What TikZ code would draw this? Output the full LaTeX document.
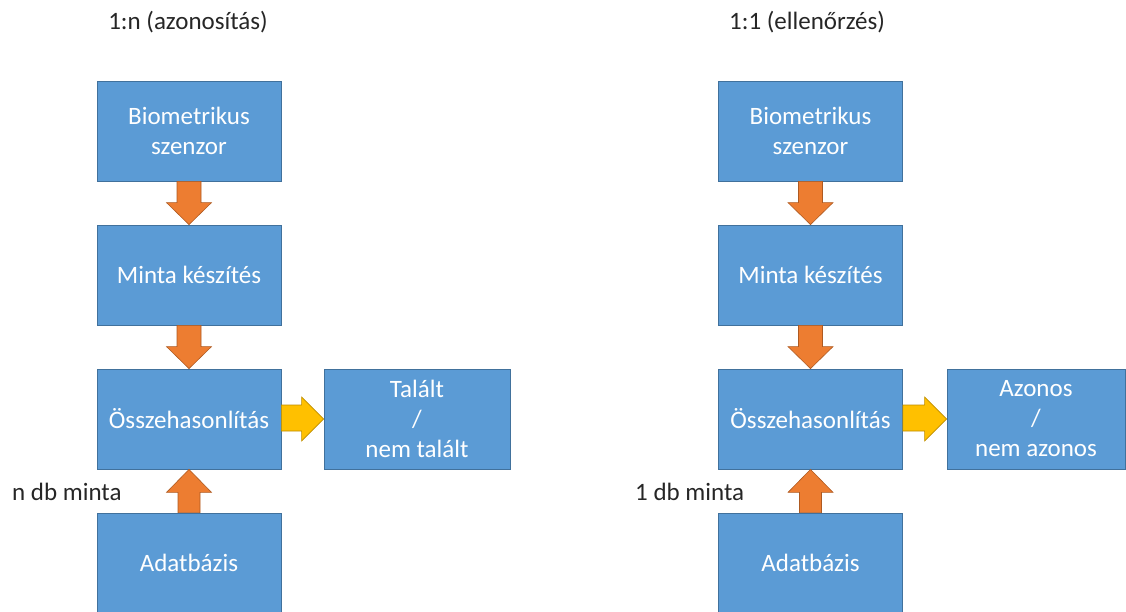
\documentclass[tikz,border=0pt]{standalone}
\usepackage{fontspec}
\setmainfont{Carlito}
\usetikzlibrary{calc}
\definecolor{boxblue}{HTML}{5B9BD5}
\definecolor{boxedge}{HTML}{41719C}
\definecolor{arrorange}{HTML}{ED7D31}
\definecolor{orangeedge}{HTML}{AE5A21}
\definecolor{arryellow}{HTML}{FFC000}
\definecolor{yellowedge}{HTML}{BC8C00}
\tikzset{
  box/.style={draw=boxedge, fill=boxblue, line width=0.8pt, minimum width=184pt, minimum height=100pt,
    inner sep=0pt, text=white, align=center, font=\fontsize{25}{30}\selectfont},
  label/.style={inner sep=0pt, text=black!85, font=\fontsize{25}{30}\selectfont},
  orangearrow/.style={fill=arrorange, draw=orangeedge, line width=0.6pt, line join=miter},
  yellowarrow/.style={fill=arryellow, draw=yellowedge, line width=0.6pt, line join=miter}
}
\newcommand\downarr[2]{%
  \path[orangearrow] ($(#1.south)+(-12,0)$) -- ($(#2.north)+(-12,-22)$) -- ($(#2.north)+(-22.5,-22)$)
    -- (#2.north) -- ($(#2.north)+(22.5,-22)$) -- ($(#2.north)+(12,-22)$) -- ($(#1.south)+(12,0)$) -- cycle;}
\newcommand\uparr[2]{%
  \path[orangearrow] ($(#1.north)+(-11,0)$) -- ($(#2.south)+(-11,23)$) -- ($(#2.south)+(-22.5,23)$)
    -- (#2.south) -- ($(#2.south)+(22.5,23)$) -- ($(#2.south)+(11,23)$) -- ($(#1.north)+(11,0)$) -- cycle;}
\newcommand\rightarr[2]{%
  \path[yellowarrow] ($(#1.east)+(0,-14)$) -- ($(#2.west)+(-22,-14)$) -- ($(#2.west)+(-22,-22)$)
    -- (#2.west) -- ($(#2.west)+(-22,22)$) -- ($(#2.west)+(-22,12)$) -- ($(#1.east)+(0,12)$) -- cycle;}
\begin{document}
\begin{tikzpicture}[x=1pt,y=-1pt]
\useasboundingbox (0,0) rectangle (1126,611);
\begin{scope}
\clip (0,0) rectangle (1126,611);
% left column
\node[label] (t1) at (188,22) {1:n (azonosítás)};
\node[box] (l1) at (189,131) {Biometrikus\\szenzor};
\node[box] (l2) at (189,275) {Minta készítés};
\node[box] (l3) at (189,419) {Összehasonlítás};
\node[box] (l4) at (189,563) {Adatbázis};
\node[box, minimum width=186pt] (l5) at (417,419) {Talált\\/\\nem talált};
\node[label, anchor=west] (n1) at (12,492) {n db minta};
\downarr{l1}{l2}
\downarr{l2}{l3}
\uparr{l4}{l3}
\rightarr{l3}{l5}
% right column
\node[label] (t2) at (807,22) {1:1 (ellenőrzés)};
\node[box] (r1) at (810.5,131) {Biometrikus\\szenzor};
\node[box] (r2) at (810.5,275) {Minta készítés};
\node[box] (r3) at (810.5,419) {Összehasonlítás};
\node[box] (r4) at (810.5,563) {Adatbázis};
\node[box, minimum width=178pt] (r5) at (1036,419) {Azonos\\/\\nem azonos};
\node[label, anchor=west] (n2) at (635,492) {1 db minta};
\downarr{r1}{r2}
\downarr{r2}{r3}
\uparr{r4}{r3}
\rightarr{r3}{r5}
\end{scope}
\end{tikzpicture}
\end{document}
